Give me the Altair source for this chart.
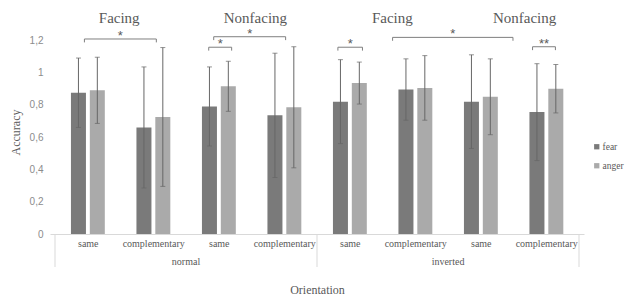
import altair as alt
import pandas as pd

# ---------------- data ----------------
conditions = ["same", "complementary", "same", "complementary",
              "same", "complementary", "same", "complementary"]
orientations = ["normal", "inverted"]
orientation_center = [2, 6]
separators = [0, 4, 8]
emotions = ["fear", "anger"]

fear_mean = [0.875, 0.66, 0.79, 0.735, 0.82, 0.895, 0.82, 0.755]
fear_sd = [0.215, 0.375, 0.245, 0.385, 0.26, 0.19, 0.29, 0.30]
anger_mean = [0.89, 0.725, 0.915, 0.785, 0.935, 0.905, 0.85, 0.90]
anger_sd = [0.205, 0.43, 0.155, 0.375, 0.13, 0.20, 0.235, 0.15]

header_text = ["Facing", "Nonfacing", "Facing", "Nonfacing"]
header_x = [0.98, 3.06, 5.15, 7.17]
header_y = [1.309, 1.309, 1.309, 1.309]

bracket_x1 = [0.449, 2.347, 2.423, 4.319, 5.154, 7.291]
bracket_x2 = [1.547, 2.697, 3.521, 4.694, 6.992, 7.640]
bracket_y = [1.208, 1.157, 1.222, 1.157, 1.218, 1.160]
bracket_label = ["*", "*", "*", "*", "*", "**"]

# ---------------- tables ----------------
bar_off = {"fear": -0.142, "anger": 0.146}
rows = []
for i, c in enumerate(conditions):
    for e, m, s in (("fear", fear_mean[i], fear_sd[i]), ("anger", anger_mean[i], anger_sd[i])):
        rows.append(dict(idx=i, cond=c, emotion=e, mean=m, lo=m - s, hi=m + s,
                         xpos=i + 0.5 + bar_off[e]))
df = pd.DataFrame(rows)

br = pd.DataFrame(dict(x1=bracket_x1, x2=bracket_x2, y=bracket_y, label=bracket_label))
br["ytick"] = br["y"] - 0.021
br["xm"] = (br["x1"] + br["x2"]) / 2

hd = pd.DataFrame(dict(text=header_text, x=header_x, y=header_y))
og = pd.DataFrame(dict(text=orientations, x=orientation_center))
sp = pd.DataFrame(dict(x=separators))

GRAY = "#595959"
SERIF = "Liberation Serif, Times New Roman, DejaVu Serif, serif"
SANS = "Liberation Sans, Arial, sans-serif"

x_axis = alt.Axis(values=[i + 0.5 for i in range(len(conditions))],
                  labelExpr=f"{conditions}[floor(datum.value)]",
                  ticks=False, grid=False, domainColor="#d9d9d9",
                  labelFont=SERIF, labelFontSize=10, labelColor=GRAY, labelPadding=4,
                  title="Orientation", titleFont=SERIF, titleFontSize=12,
                  titleFontWeight="normal", titleColor=GRAY,
                  titleY=55, titleBaseline="middle")
x_scale = alt.Scale(domain=[0, 8], nice=False, zero=False)

y_axis = alt.Axis(values=[0, 0.2, 0.4, 0.6, 0.8, 1.0, 1.2],
                  labelExpr="replace(format(datum.value, '.1~f'), '.', ',')",
                  ticks=False, grid=False, domain=False,
                  labelFont=SANS, labelFontSize=10, labelColor="#8c8c8c",
                  labelPadding=7,
                  title="Accuracy", titleFont=SERIF, titleFontSize=12,
                  titleFontWeight="normal", titleColor=GRAY,
                  titleX=-35, titleY=124, titleBaseline="middle", titleAlign="center")
y_scale = alt.Scale(domain=[0, 1.4], nice=False, zero=True)


def X(field):
    return alt.X(field, type="quantitative", scale=x_scale, axis=x_axis)


def Y(field):
    return alt.Y(field, type="quantitative", scale=y_scale, axis=y_axis)


base = alt.Chart(df)

bars = base.mark_bar(size=15, orient="vertical").encode(
    x=X("xpos"), y=Y("mean"),
    color=alt.Color("emotion:N",
                    scale=alt.Scale(domain=emotions, range=["#7a7a7a", "#aaaaaa"]),
                    legend=alt.Legend(orient="none", legendX=542, legendY=134, title=None,
                                      symbolType="square", symbolSize=28,
                                      labelFont=SERIF, labelFontSize=9.5, labelColor=GRAY,
                                      rowPadding=8, labelOffset=1, padding=0)),
)
err = base.mark_rule(color="#666666", strokeWidth=1).encode(
    x=X("xpos"), y=Y("lo"), y2="hi")
cap_lo = base.mark_tick(orient="horizontal", size=5, thickness=1, color="#666666").encode(
    x=X("xpos"), y=Y("lo"))
cap_hi = base.mark_tick(orient="horizontal", size=5, thickness=1, color="#666666").encode(
    x=X("xpos"), y=Y("hi"))

bchart = alt.Chart(br)
b_h = bchart.mark_rule(color="#7f7f7f", strokeWidth=1).encode(x=X("x1"), x2="x2", y=Y("y"))
b_l = bchart.mark_rule(color="#7f7f7f", strokeWidth=1).encode(x=X("x1"), y=Y("y"), y2="ytick")
b_r = bchart.mark_rule(color="#7f7f7f", strokeWidth=1).encode(x=X("x2"), y=Y("y"), y2="ytick")
b_t = bchart.mark_text(font=SANS, fontSize=13, color=GRAY,
                       baseline="alphabetic", dy=1).encode(x=X("xm"), y=Y("y"), text="label:N")

heads = alt.Chart(hd).mark_text(font=SERIF, fontSize=15, color=GRAY,
                                baseline="alphabetic").encode(
    x=X("x"), y=Y("y"), text="text:N")

groups = alt.Chart(og).mark_text(font=SERIF, fontSize=10, color=GRAY,
                                 baseline="middle").encode(
    x=X("x"), y=alt.value(253.7), text="text:N")

seps = alt.Chart(sp).mark_rule(color="#d9d9d9", strokeWidth=1).encode(
    x=X("x"), y=alt.value(226), y2=alt.value(259))

chart = alt.layer(bars, err, cap_lo, cap_hi, b_h, b_l, b_r, b_t, heads, groups, seps).properties(
    width=534, height=226,
    autosize=alt.AutoSizeParams(type="none"),
    padding={"left": 42, "top": 0, "right": 41, "bottom": 63},
    background="white",
).configure_view(stroke=None)

chart.save("out.html", embed_options={"renderer": "svg", "actions": False})
